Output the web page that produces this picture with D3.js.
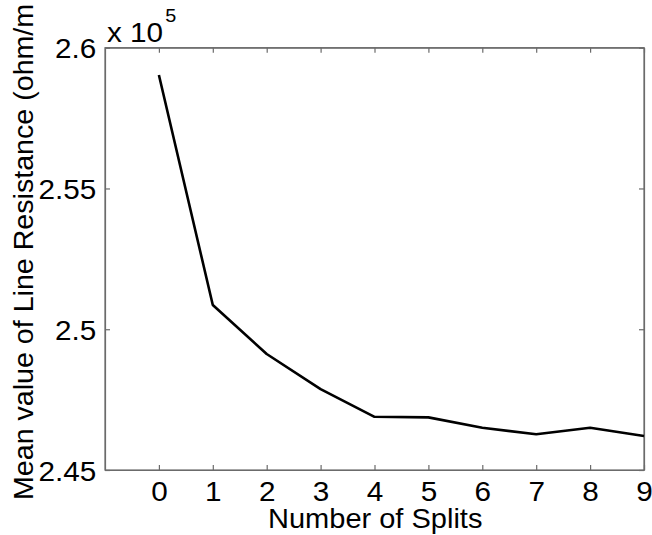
<!DOCTYPE html>
<html><head><meta charset="utf-8">
<script src="https://cdn.jsdelivr.net/npm/d3@7"></script>
<style>body{margin:0;background:#fff}</style>
</head><body>
<script>
const splits = [0,1,2,3,4,5,6,7,8,9];
const resistance = [2.5903,2.5086,2.4912,2.4787,2.4689,2.4687,2.4650,2.4627,2.4650,2.4621];
const xTicks = [0,1,2,3,4,5,6,7,8,9];
const yTicks = [2.45,2.5,2.55,2.6];
const yTickLabels = ["2.45","2.5","2.55","2.6"];

const W=652,H=535;
const L=105,R=644,T=47.7,B=470;
const svg=d3.select("body").append("svg").attr("width",W).attr("height",H);
const x=d3.scaleLinear().domain([-1,9]).range([L,R]);
const y=d3.scaleLinear().domain([2.45,2.6]).range([B,T]);
const font="'Liberation Sans', Arial, sans-serif";
const FS=27, SX=1.1;
const axCol="#6b6b6b";

// frame
svg.append("rect").attr("x",L).attr("y",T).attr("width",R-L).attr("height",B-T)
  .attr("fill","none").attr("stroke",axCol).attr("stroke-width",1.2);

// axes with inward ticks
const xb=svg.append("g").attr("transform",`translate(0,${B})`)
  .call(d3.axisBottom(x).tickValues(xTicks).tickSizeInner(-5).tickSizeOuter(0).tickPadding(12));
const xt=svg.append("g").attr("transform",`translate(0,${T})`)
  .call(d3.axisTop(x).tickValues(xTicks).tickSizeInner(-5).tickSizeOuter(0).tickFormat(""));
const yl=svg.append("g").attr("transform",`translate(${L},0)`)
  .call(d3.axisLeft(y).tickValues(yTicks).tickSizeInner(-5).tickSizeOuter(0).tickPadding(8)
  .tickFormat((d,i)=>yTickLabels[i]));
const yr=svg.append("g").attr("transform",`translate(${R},0)`)
  .call(d3.axisRight(y).tickValues(yTicks).tickSizeInner(-5).tickSizeOuter(0).tickFormat(""));
[xb,xt,yl,yr].forEach(g=>{
  g.select(".domain").attr("stroke",axCol).attr("stroke-width",1.2);
  g.selectAll(".tick line").attr("stroke",axCol).attr("stroke-width",1.2);
  g.selectAll("text").attr("font-family",font).attr("font-size",FS).attr("fill","#000")
    .attr("transform",`scale(${SX},1)`);
});
xb.selectAll(".tick text").attr("dy","0.71em");
yl.selectAll(".tick text").attr("dy","0.37em");

// line
svg.append("path").datum(splits.map((s,i)=>[s,resistance[i]]))
  .attr("d",d3.line().x(d=>x(d[0])).y(d=>y(d[1])))
  .attr("fill","none").attr("stroke","#000").attr("stroke-width",2.6)
  .attr("stroke-linejoin","round");

// exponent label
const ex=svg.append("text").attr("transform",`translate(107,42) scale(${SX},1)`)
  .attr("font-family",font).attr("font-size",FS);
ex.append("tspan").text("x 10");
ex.append("tspan").attr("font-size",18).attr("dx",2).attr("dy",-20).text("5");

// axis labels
svg.append("text").attr("transform","translate(268,528) scale(1.075,1)").attr("font-family",font)
  .attr("font-size",FS).text("Number of Splits");
svg.append("text").attr("transform","translate(33,500) rotate(-90) scale(1.06,1)").attr("font-family",font)
  .attr("font-size",FS).text("Mean value of Line Resistance (ohm/m");
</script>
</body></html>
